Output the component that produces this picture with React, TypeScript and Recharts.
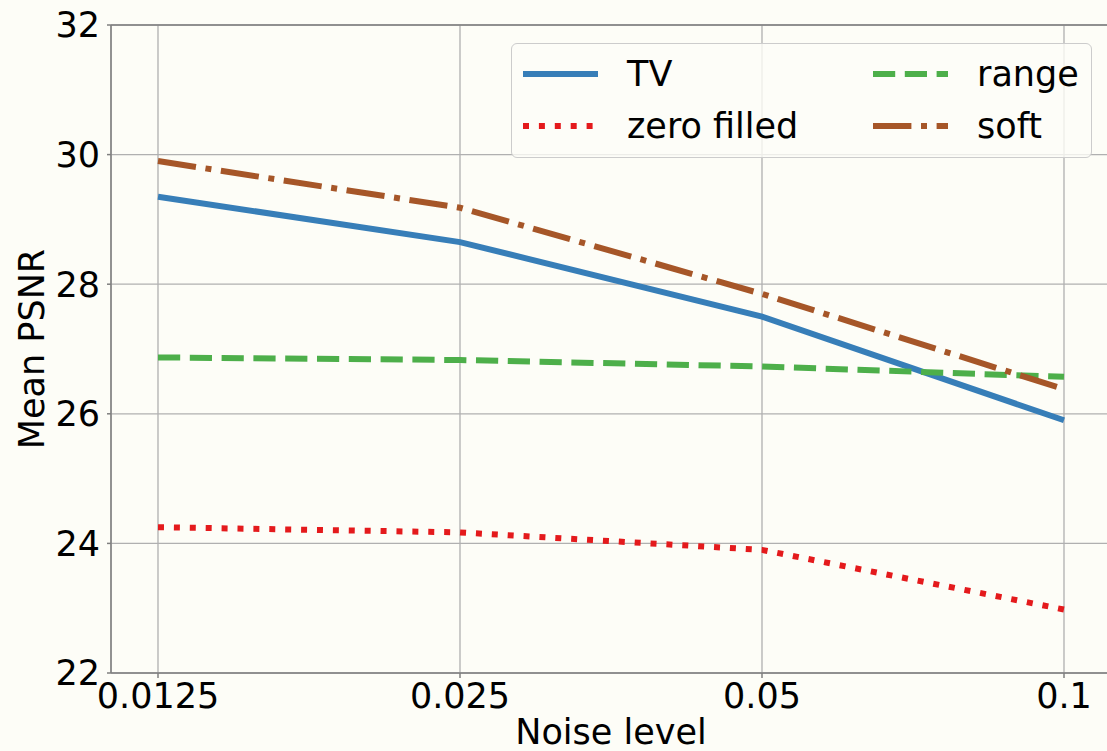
import {
    LineChart,
    Line,
    XAxis,
    YAxis,
    CartesianGrid,
    Legend,
    ReferenceLine,
} from "recharts";

const noiseLevels = ["0.0125", "0.025", "0.05", "0.1"];
const tvPsnr = [29.35, 28.65, 27.5, 25.9];
const zeroFilledPsnr = [24.25, 24.17, 23.9, 22.98];
const rangePsnr = [26.87, 26.83, 26.73, 26.57];
const softPsnr = [29.9, 29.18, 27.85, 26.38];
const yTicks = [22, 24, 26, 28, 30, 32];

const series = [
    { key: "tv", name: "TV", color: "#377eb8", dash: undefined },
    { key: "zero", name: "zero filled", color: "#e41a1c", dash: "6 9.9" },
    { key: "range", name: "range", color: "#4daf4a", dash: "22.2 9.6" },
    { key: "soft", name: "soft", color: "#a65628", dash: "38.4 9.6 6 9.6" },
];

const data = noiseLevels.map((noise, i) => ({
    noise,
    tv: tvPsnr[i],
    zero: zeroFilledPsnr[i],
    range: rangePsnr[i],
    soft: softPsnr[i],
}));

const FONT = "'DejaVu Sans', sans-serif";
const LW = 6;

function LegendBox() {
    // two columns: TV / zero filled on the left, range / soft on the right
    const slots = [
        { x: 11, y: 30 },
        { x: 11, y: 82 },
        { x: 361, y: 30 },
        { x: 361, y: 82 },
    ];
    return (
        <div
            style={{
                width: 581,
                height: 115,
                boxSizing: "border-box",
                border: "1.5px solid #cccccc",
                borderRadius: 6,
                background: "rgba(253,253,247,0.8)",
            }}
        >
            <svg width={578} height={112} style={{ display: "block" }}>
                {series.map((s, i) => (
                    <g key={s.key}>
                        <line
                            x1={slots[i].x}
                            x2={slots[i].x + 75}
                            y1={slots[i].y}
                            y2={slots[i].y}
                            stroke={s.color}
                            strokeWidth={LW}
                            strokeDasharray={s.dash}
                        />
                        <text
                            x={slots[i].x + 104}
                            y={slots[i].y + 12}
                            fontSize={35}
                            fontFamily={FONT}
                            fill="#000"
                        >
                            {s.name}
                        </text>
                    </g>
                ))}
            </svg>
        </div>
    );
}

export default function App() {
    return (
        <div
            style={{
                position: "absolute",
                left: 0,
                top: 0,
                width: 1107,
                height: 751,
                overflow: "hidden",
                background: "#fdfdf7",
                fontFamily: FONT,
            }}
        >
            <LineChart
                width={1130}
                height={751}
                data={data}
                margin={{ top: 25, right: 19, left: 0, bottom: 0 }}
            >
                <CartesianGrid stroke="#b0b0b0" strokeWidth={1.3} />
                <XAxis
                    dataKey="noise"
                    height={78}
                    padding={{ left: 47, right: 47 }}
                    stroke="#7f7f7f"
                    strokeWidth={1.5}
                    tickSize={5}
                    tickMargin={5}
                    tick={{ fontSize: 35, fill: "#000", fontFamily: FONT }}
                    label={{
                        value: "Noise level",
                        position: "insideBottom",
                        offset: 7,
                        fontSize: 35,
                        fill: "#000",
                        fontFamily: FONT,
                    }}
                />
                <YAxis
                    domain={[22, 32]}
                    ticks={yTicks}
                    width={111}
                    stroke="#7f7f7f"
                    strokeWidth={1.5}
                    tickSize={4}
                    tickMargin={7}
                    tick={{ fontSize: 35, fill: "#000", fontFamily: FONT }}
                    label={{
                        value: "Mean PSNR",
                        angle: -90,
                        position: "insideLeft",
                        offset: 32,
                        fontSize: 35,
                        fill: "#000",
                        fontFamily: FONT,
                        style: { textAnchor: "middle" },
                    }}
                />
                <ReferenceLine y={32} stroke="#7f7f7f" strokeWidth={1.5} />
                {series.map((s) => (
                    <Line
                        key={s.key}
                        type="linear"
                        dataKey={s.key}
                        name={s.name}
                        stroke={s.color}
                        strokeWidth={LW}
                        strokeDasharray={s.dash}
                        dot={false}
                        isAnimationActive={false}
                    />
                ))}
                <Legend
                    layout="vertical"
                    align="center"
                    verticalAlign="middle"
                    content={<LegendBox />}
                    wrapperStyle={{ left: 511, top: 43, width: 581, height: 115 }}
                />
            </LineChart>
        </div>
    );
}
